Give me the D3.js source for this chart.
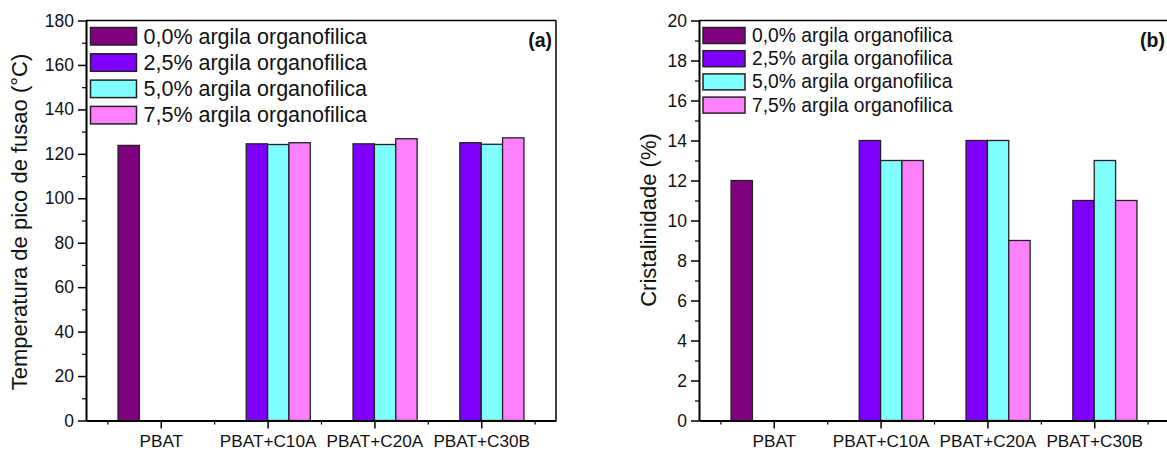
<!DOCTYPE html>
<html>
<head>
<meta charset="utf-8">
<script src="https://cdn.jsdelivr.net/npm/d3@7"></script>
<style>
  html, body { margin: 0; padding: 0; background: #fff; }
  svg { display: block; font-family: "Liberation Sans", Arial, sans-serif; }
</style>
</head>
<body>
<svg id="chart" width="1167" height="450"></svg>
<script>
// ---------- data ----------
const categories = ["PBAT", "PBAT+C10A", "PBAT+C20A", "PBAT+C30B"];
const seriesNames = ["0,0% argila organofilica", "2,5% argila organofilica",
                     "5,0% argila organofilica", "7,5% argila organofilica"];
const seriesColors = ["#800080", "#8000FF", "#80FFFF", "#FF80FF"];

// (a) melting peak temperature (°C)
const temp00 = [123.8, null, null, null];
const temp25 = [null, 124.5, 124.5, 125.0];
const temp50 = [null, 124.2, 124.2, 124.3];
const temp75 = [null, 125.0, 126.8, 127.2];

// (b) crystallinity (%)
const cryst00 = [12, null, null, null];
const cryst25 = [null, 14, 14, 11];
const cryst50 = [null, 13, 14, 13];
const cryst75 = [null, 13, 9, 11];

const tempTicks = [0, 20, 40, 60, 80, 100, 120, 140, 160, 180];
const crystTicks = [0, 2, 4, 6, 8, 10, 12, 14, 16, 18, 20];

// ---------- drawing ----------
const svg = d3.select("#chart");
const FONT = "Liberation Sans, Arial, sans-serif";

function panel(opts) {
  const g = svg.append("g");
  const x = d3.scaleLinear().domain([0.3, 4.7]).range([opts.left, opts.right]);
  const y = d3.scaleLinear().domain([opts.ymin, opts.ymax]).range([opts.bottom, opts.top]);
  const barW = 0.2;

  // bars
  opts.series.forEach((vals, si) => {
    g.append("g").selectAll("rect")
      .data(vals.map((v, ci) => ({ v, ci })).filter(d => d.v !== null))
      .join("rect")
      .attr("x", d => x(d.ci + 1 - 0.4 + si * barW))
      .attr("width", d => x(d.ci + 1 - 0.4 + (si + 1) * barW) - x(d.ci + 1 - 0.4 + si * barW))
      .attr("y", d => y(d.v))
      .attr("height", d => y(opts.ymin) - y(d.v))
      .attr("fill", seriesColors[si])
      .attr("stroke", "#222")
      .attr("stroke-width", 1.3);
  });

  // minor ticks y
  const minorY = [];
  for (let i = 0; i < opts.ticks.length - 1; i++) minorY.push((opts.ticks[i] + opts.ticks[i + 1]) / 2);
  g.append("g").attr("transform", `translate(${opts.left},0)`)
    .call(d3.axisLeft(y).tickValues(minorY).tickSize(4).tickSizeOuter(0).tickFormat(""))
    .call(a => a.select(".domain").remove())
    .call(a => a.selectAll("line").attr("stroke", "#000").attr("stroke-width", 1.2));

  // minor ticks x
  g.append("g").attr("transform", `translate(0,${opts.bottom})`)
    .call(d3.axisBottom(x).tickValues([0.5, 1.5, 2.5, 3.5, 4.5]).tickSize(4).tickSizeOuter(0).tickFormat(""))
    .call(a => a.select(".domain").remove())
    .call(a => a.selectAll("line").attr("stroke", "#000").attr("stroke-width", 1.2));

  // y axis
  const ya = g.append("g").attr("transform", `translate(${opts.left},0)`)
    .call(d3.axisLeft(y).tickValues(opts.ticks).tickSize(8).tickSizeOuter(0).tickPadding(4));
  ya.select(".domain").attr("stroke", "#000").attr("stroke-width", 2);
  ya.selectAll("line").attr("stroke", "#000").attr("stroke-width", 1.5);
  ya.selectAll("text").attr("font-family", FONT).attr("font-size", 17.5).attr("fill", "#111");

  // x axis
  const xa = g.append("g").attr("transform", `translate(0,${opts.bottom})`)
    .call(d3.axisBottom(x).tickValues([1, 2, 3, 4]).tickFormat(d => categories[d - 1])
      .tickSize(8).tickSizeOuter(0).tickPadding(6));
  xa.select(".domain").attr("stroke", "#000").attr("stroke-width", 2);
  xa.selectAll("line").attr("stroke", "#000").attr("stroke-width", 1.5);
  xa.selectAll("text").attr("font-family", FONT).attr("font-size", 17.2).attr("fill", "#111");

  // top and right frame
  g.append("line").attr("x1", opts.left).attr("x2", opts.right)
    .attr("y1", opts.top).attr("y2", opts.top).attr("stroke", "#000").attr("stroke-width", 1.5);
  g.append("line").attr("x1", opts.right).attr("x2", opts.right)
    .attr("y1", opts.top).attr("y2", opts.bottom).attr("stroke", "#000").attr("stroke-width", 1.5);

  // y title
  g.append("text")
    .attr("transform", `translate(${opts.titleX},${opts.titleY}) rotate(-90)`)
    .attr("text-anchor", "middle")
    .attr("font-family", FONT).attr("font-size", opts.titleSize).attr("fill", "#111")
    .text(opts.title);

  // panel label
  g.append("text")
    .attr("x", opts.right - 4).attr("y", 47)
    .attr("text-anchor", "end")
    .attr("font-family", FONT).attr("font-weight", "bold").attr("font-size", 19.5).attr("fill", "#111")
    .text(opts.label);

  // legend
  const lg = g.append("g");
  seriesNames.forEach((name, i) => {
    const yy = opts.legTop + i * opts.legStep;
    lg.append("rect")
      .attr("x", opts.left + opts.legDx).attr("y", yy)
      .attr("width", opts.swW).attr("height", opts.swH)
      .attr("fill", seriesColors[i]).attr("stroke", "#222").attr("stroke-width", 1.5);
    lg.append("text")
      .attr("x", opts.left + opts.legDx + opts.swW + 7).attr("y", yy + opts.swH - 1.5)
      .attr("font-family", FONT).attr("font-size", opts.legSize).attr("fill", "#111")
      .text(name);
  });
}

panel({
  left: 86, right: 556, top: 20.5, bottom: 420.5,
  ymin: 0, ymax: 180, ticks: tempTicks,
  series: [temp00, temp25, temp50, temp75],
  title: "Temperatura de pico de fusao (°C)", titleX: 27, titleY: 222, titleSize: 22,
  label: "(a)",
  legDx: 4.5, legTop: 27.5, legStep: 26.3, swW: 46, swH: 17.5, legSize: 21.5
});

panel({
  left: 699, right: 1169, top: 20.5, bottom: 420.5,
  ymin: 0, ymax: 20, ticks: crystTicks,
  series: [cryst00, cryst25, cryst50, cryst75],
  title: "Cristalinidade (%)", titleX: 656, titleY: 220, titleSize: 22,
  label: "(b)",
  legDx: 4, legTop: 27.5, legStep: 23.2, swW: 42, swH: 16, legSize: 19.3
});
</script>
</body>
</html>
